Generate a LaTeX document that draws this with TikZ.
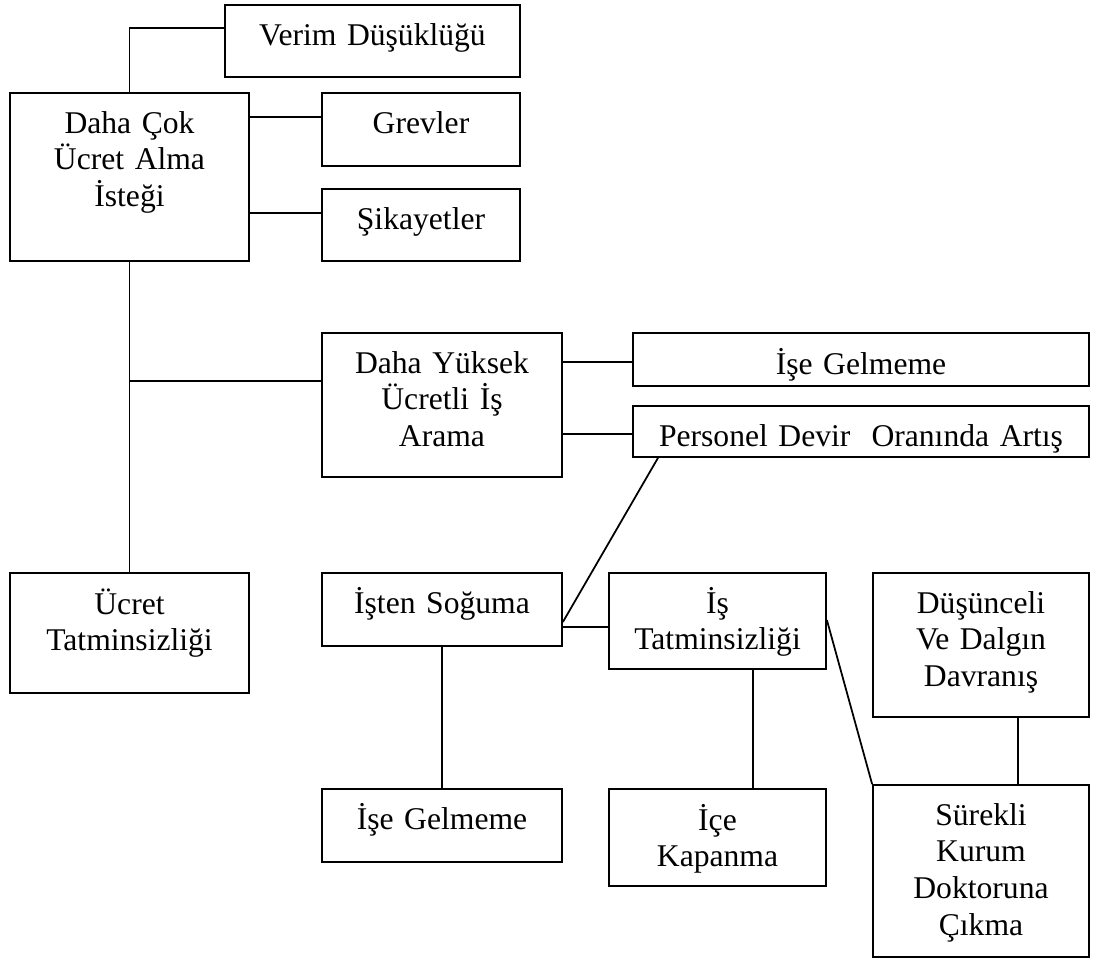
\documentclass[tikz,border=0pt]{standalone}
\usepackage{fontspec}
\setmainfont{Liberation Serif}
\usetikzlibrary{fit}

\begin{document}
\begin{tikzpicture}[x=0.02cm, y=-0.02cm,
    box/.style={draw, line width=1pt, inner sep=0pt},
    txt/.style={anchor=base, align=center, text width=9cm, inner sep=0pt, font=\fontsize{18}{21}\selectfont},
    link/.style={line width=1pt}
]
\useasboundingbox (0,0) rectangle (1095,960);

\node[box, fit={(225,5) (520,77)}] (verim) {};
\node[box, fit={(10,93) (249,261)}] (daha) {};
\node[box, fit={(322,93) (520,166)}] (grev) {};
\node[box, fit={(322,189) (520,261)}] (sikayet) {};
\node[box, fit={(322,333) (562,477)}] (yuksek) {};
\node[box, fit={(633,333) (1089,386)}] (gelmeA) {};
\node[box, fit={(633,406) (1089,457)}] (devir) {};
\node[box, fit={(10,573) (249,693)}] (ucret) {};
\node[box, fit={(322,573) (562,646)}] (soguma) {};
\node[box, fit={(609,573) (826,669)}] (istat) {};
\node[box, fit={(873,573) (1089,717)}] (dalgin) {};
\node[box, fit={(322,789) (562,862)}] (gelmeB) {};
\node[box, fit={(609,789) (826,886)}] (kapan) {};
\node[box, fit={(873,785) (1089,957)}] (doktor) {};

\node[txt] (verimT) at (372.5,45) {Verim Düşüklüğü};
\node[txt] (dahaT) at (129.5,133) {Daha Çok\\Ücret Alma\\İsteği};
\node[txt] (grevT) at (421,133) {Grevler};
\node[txt] (sikayetT) at (421,229) {Şikayetler};
\node[txt] (yuksekT) at (442,373) {Daha Yüksek\\Ücretli İş\\Arama};
\node[txt] (gelmeAT) at (861,374) {İşe Gelmeme};
\node[txt] (devirT) at (861,446) {Personel Devir\ \ Oranında Artış};
\node[txt] (ucretT) at (129.5,614) {Ücret\\Tatminsizliği};
\node[txt] (sogumaT) at (442,613) {İşten Soğuma};
\node[txt] (istatT) at (717.5,613) {İş\\Tatminsizliği};
\node[txt] (dalginT) at (981,613) {Düşünceli\\Ve Dalgın\\Davranış};
\node[txt] (gelmeBT) at (442,829) {İşe Gelmeme};
\node[txt] (kapanT) at (717.5,830) {İçe\\Kapanma};
\node[txt] (doktorT) at (981,825) {Sürekli\\Kurum\\Doktoruna\\Çıkma};

\coordinate (jn) at (daha.south |- 0,381);

\draw[link] (verim.west |- 0,28) -| (daha.north);
\draw[link] (daha.east |- 0,117) -- (grev.west |- 0,117);
\draw[link] (daha.east |- 0,213) -- (sikayet.west |- 0,213);
\draw[link] (daha.south) -- (ucret.north);
\draw[link] (jn) -- (yuksek.west |- jn);
\draw[link] (yuksek.east |- 0,362) -- (gelmeA.west |- 0,362);
\draw[link] (yuksek.east |- 0,434) -- (devir.west |- 0,434);
\draw[link] (devir.south -| 658,0) -- (soguma.east |- 0,622);
\draw[link] (soguma.east |- 0,627) -- (istat.west |- 0,627);
\draw[link] (soguma.south) -- (gelmeB.north);
\draw[link] (istat.south -| 753,0) -- (kapan.north -| 753,0);
\draw[link] (istat.east |- 0,620) -- (doktor.north west);
\draw[link] (dalgin.south -| 1018,0) -- (doktor.north -| 1018,0);

\end{tikzpicture}
\end{document}
